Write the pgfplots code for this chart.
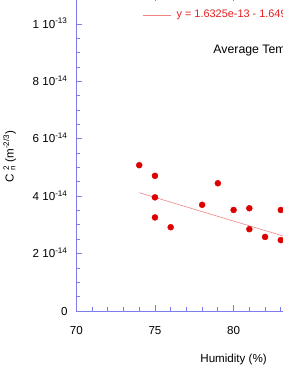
\documentclass[border=0pt]{standalone}
\usepackage{fontspec}
\setmainfont{Liberation Sans}
\usepackage{pgfplots}
\pgfplotsset{compat=1.18}
\definecolor{axisblue}{RGB}{125,125,240}
\definecolor{ptred}{RGB}{222,0,0}
\definecolor{fitred}{RGB}{240,130,130}
\definecolor{legred}{RGB}{230,30,30}
\newcommand\supsub[2]{\makebox[0pt][l]{\textsuperscript{#1}}\textsubscript{#2}}
\newcommand\tfont{\fontsize{11.6}{13.9}\selectfont}
\newcommand\sfont{\fontsize{10.9}{13.1}\selectfont}
\newcommand\afont{\fontsize{12.3}{14.8}\selectfont}
\begin{document}
\tfont
\begin{tikzpicture}[font=\tfont]
\useasboundingbox (0,0) rectangle (283pt,366pt);
\begin{scope}
\clip (0,0) rectangle (283pt,366pt);
\begin{axis}[
  at={(76.3pt,55pt)}, anchor=south west,
  scale only axis, width=314.6pt, height=315.7pt,
  xmin=70, xmax=90, ymin=0, ymax=1.1e-13,
  scaled y ticks=false, scaled x ticks=false,
  xtick={70,75,80,85,90}, xticklabels={70,75,80,85,90},
  ytick={0,2e-14,4e-14,6e-14,8e-14,1e-13},
  yticklabels={0, 2 10\textsuperscript{-14}, 4 10\textsuperscript{-14}, 6 10\textsuperscript{-14}, 8 10\textsuperscript{-14}, 1 10\textsuperscript{-13}},
  minor x tick num=4, minor y tick num=3,
  tick align=inside,
  major tick length=6pt, minor tick length=3.5pt,
  axis line style={draw=axisblue, line width=0.8pt},
  every tick/.style={draw=axisblue, line width=0.8pt},
  tick label style={font=\tfont},
  /pgf/number format/assume math mode=true,
  xticklabel style={anchor=base, inner sep=0pt, yshift=-23.3pt},
  yticklabel style={anchor=base east, inner sep=0pt, xshift=-8.6pt, yshift=-4.2pt},
  xlabel={Humidity (\%)},
  xlabel style={at={(axis description cs:0.5,0)}, anchor=base, inner sep=0pt, yshift=-51.7pt, font=\tfont},
  ylabel={C \supsub{2}{n} (m\textsuperscript{-2/3})},
  ylabel style={at={(axis description cs:-0.1996,0.49)}, anchor=base, inner sep=0pt, font=\tfont},
  legend style={draw=none, fill=none, at={(rel axis cs:0.2111,0.9376)}, anchor=west,
    inner sep=0pt, outer sep=0pt, nodes={inner sep=0pt, text=legred, font=\sfont},
    /tikz/every odd column/.append style={column sep=5.3pt}},
  legend image code/.code={\draw[#1] (0pt,0pt) -- (28pt,0pt);},
]
\addplot[only marks, mark=*, mark size=3pt, color=ptred, forget plot] coordinates {
  (74,5.08e-14) (75,4.71e-14) (75,3.96e-14) (75,3.26e-14) (76,2.92e-14)
  (78,3.70e-14) (79,4.45e-14) (80,3.52e-14) (81,3.58e-14) (81,2.85e-14)
  (82,2.58e-14) (83,3.52e-14) (83,2.47e-14)
};
\addplot[fitred, line width=0.6pt, no marks] coordinates {(74,4.1224e-14) (88,1.8138e-14)};
\addlegendentry{y = 1.6325e-13 - 1.6491e-15x \ \ R= 0.53}
\node[anchor=base west, inner sep=0pt, font=\afont] at (rel axis cs:0.4353,0.8163) {Average Temperature};
\end{axis}
\end{scope}
\end{tikzpicture}
\end{document}
